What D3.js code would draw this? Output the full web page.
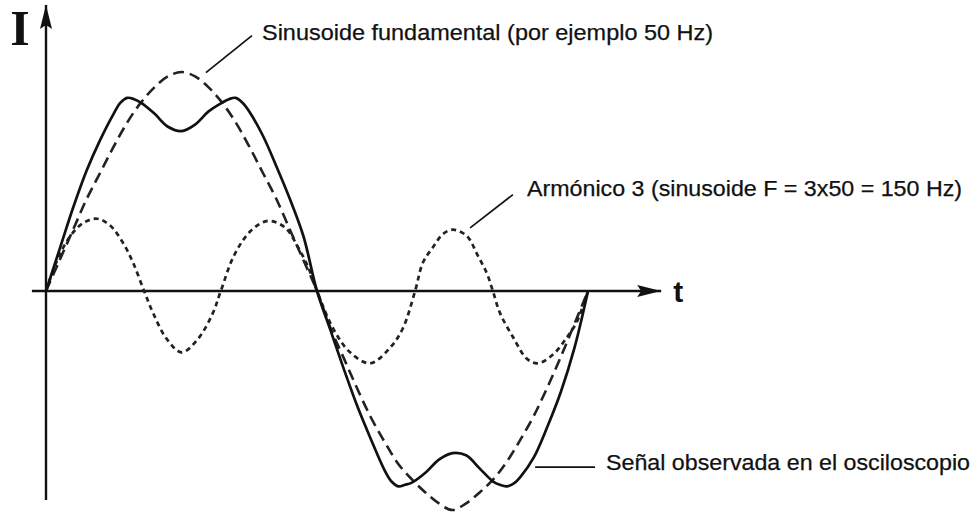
<!DOCTYPE html>
<html>
<head>
<meta charset="utf-8">
<script src="https://cdn.jsdelivr.net/npm/d3@7"></script>
<style>
  html, body { margin: 0; padding: 0; background: #fff; }
  svg { display: block; }
  text { font-family: "Liberation Sans", Arial, sans-serif; fill: #111; }
</style>
</head>
<body>
<svg id="chart" width="975" height="512"></svg>
<script>
// Time in ms (one 50 Hz period = 20 ms), current normalised to the fundamental's peak.
const tFund = [0, 0.5, 1, 1.5, 2, 2.5, 3, 3.5, 4, 4.5, 5, 5.5, 6, 6.5, 7, 7.5, 8, 8.5, 9, 9.5, 10,
               10.5, 11, 11.5, 12, 12.5, 13, 13.5, 14, 14.5, 15, 15.5, 16, 16.5, 17, 17.5, 18, 18.5, 19, 19.5, 20];
const iFund = [0, 0.14, 0.28, 0.42, 0.54, 0.66, 0.77, 0.86, 0.93, 0.98, 1.00, 0.98, 0.93, 0.86, 0.77, 0.66, 0.54, 0.42, 0.28, 0.14, 0,
               -0.17, -0.31, -0.45, -0.58, -0.69, -0.79, -0.86, -0.92, -0.97, -1.00, -0.97, -0.92, -0.86, -0.78, -0.68, -0.57, -0.44, -0.30, -0.15, 0];

// Third harmonic (150 Hz)
const tHarm = [0, 0.41, 0.89, 1.37, 1.88, 2.36, 2.84, 3.21, 3.62, 3.95, 4.46, 5.0, 5.6, 6.16, 6.45,
               6.97, 7.6, 8.19, 8.82, 9.3, 9.67, 10.0, 10.59, 11.22, 11.96, 12.69, 13.17, 13.62,
               13.91, 14.28, 14.65, 15.02, 15.54, 15.9, 16.27, 16.49, 16.75, 17.23, 17.75, 18.15, 18.71, 19.23, 19.59, 20];
const iHarm = [0, 0.14, 0.25, 0.31, 0.33, 0.30, 0.22, 0.13, 0, -0.10, -0.22, -0.28, -0.22, -0.10, 0,
               0.17, 0.28, 0.32, 0.29, 0.20, 0.11, 0, -0.17, -0.28, -0.33, -0.26, -0.17, 0,
               0.13, 0.20, 0.26, 0.28, 0.25, 0.17, 0.08, 0, -0.10, -0.21, -0.31, -0.33, -0.29, -0.21, -0.14, 0];

// Resulting waveform seen on the oscilloscope
const tSig = [0, 0.5, 1, 1.5, 2, 2.5, 2.75, 3, 3.25, 3.5, 4, 4.5, 5, 5.5, 6, 6.5, 6.75, 7, 7.25, 7.5, 8, 8.5, 9, 9.5, 10,
              10.5, 11, 11.5, 12, 12.5, 12.75, 13, 13.25, 13.5, 14, 14.5, 15, 15.5, 16, 16.5, 16.75, 17, 17.25, 17.5, 18, 18.5, 19, 19.5, 20];
const iSig = [0, 0.19, 0.38, 0.55, 0.69, 0.81, 0.86, 0.882, 0.876, 0.86, 0.81, 0.75, 0.73, 0.76, 0.82, 0.86, 0.876, 0.882, 0.86, 0.82, 0.71, 0.57, 0.42, 0.25, 0,
              -0.18, -0.36, -0.53, -0.68, -0.82, -0.87, -0.892, -0.885, -0.875, -0.83, -0.77, -0.74, -0.75, -0.81, -0.87, -0.885, -0.892, -0.88, -0.85, -0.76, -0.62, -0.46, -0.26, 0];

const labels = [
  "Sinusoide fundamental (por ejemplo 50 Hz)",
  "Armónico 3 (sinusoide F = 3x50 = 150 Hz)",
  "Señal observada en el osciloscopio"
];
const axisLabels = ["I", "t"];

const svg = d3.select("#chart");
const x = d3.scaleLinear().domain([0, 20]).range([46, 588]);
const y = d3.scaleLinear().domain([0, 1]).range([291, 72]);

const line = d3.line()
  .x(d => x(d[0]))
  .y(d => y(d[1]))
  .curve(d3.curveCatmullRom.alpha(0.5));

const zipPts = (ts, vs) => ts.map((t, i) => [t, vs[i]]);

// Arrow heads
const defs = svg.append("defs");
defs.append("marker")
  .attr("id", "arrow")
  .attr("viewBox", "0 0 24 12")
  .attr("refX", 24).attr("refY", 6)
  .attr("markerWidth", 24).attr("markerHeight", 12)
  .attr("markerUnits", "userSpaceOnUse")
  .attr("orient", "auto")
  .append("path")
  .attr("d", "M0,0 L24,6 L0,12 L4,6 Z")
  .attr("fill", "#111");

// Axes
svg.append("line")
  .attr("x1", x(-0.52)).attr("y1", y(0))
  .attr("x2", x(22.7)).attr("y2", y(0))
  .attr("stroke", "#111").attr("stroke-width", 2.6)
  .attr("marker-end", "url(#arrow)");

svg.append("line")
  .attr("x1", x(0)).attr("y1", y(-0.954))
  .attr("x2", x(0)).attr("y2", y(1.306))
  .attr("stroke", "#111").attr("stroke-width", 2.4)
  .attr("marker-end", "url(#arrow)");

svg.append("text")
  .attr("x", 20).attr("y", 45)
  .attr("text-anchor", "middle")
  .style("font-family", "'Liberation Serif', 'Times New Roman', serif")
  .style("font-weight", "bold")
  .style("font-size", "50px")
  .text(axisLabels[0]);

svg.append("text")
  .attr("x", x(22.7) + 12).attr("y", 302)
  .style("font-weight", "bold")
  .style("font-size", "30px")
  .text(axisLabels[1]);

// Curves
svg.append("path")
  .datum(zipPts(tHarm, iHarm))
  .attr("d", line)
  .attr("fill", "none").attr("stroke", "#222")
  .attr("stroke-width", 2.7)
  .attr("stroke-dasharray", "5,4");

svg.append("path")
  .datum(zipPts(tFund, iFund))
  .attr("d", line)
  .attr("fill", "none").attr("stroke", "#222")
  .attr("stroke-width", 2.6)
  .attr("stroke-dasharray", "11,6");

svg.append("path")
  .datum(zipPts(tSig, iSig))
  .attr("d", line)
  .attr("fill", "none").attr("stroke", "#111")
  .attr("stroke-width", 2.7);

// Annotations: leader line from a curve to its caption
const notes = [
  { from: [5.9, 0.997], to: [7.6, 1.166], tx: 262, ty: 40, len: 451, text: labels[0] },
  { from: [15.65, 0.288], to: [17.23, 0.44], tx: 527, ty: 196, len: 435, text: labels[1] },
  { from: [18.05, -0.804], to: [20.26, -0.804], tx: 606, ty: 470, len: 364, text: labels[2] }
];

notes.forEach(n => {
  svg.append("line")
    .attr("x1", x(n.from[0])).attr("y1", y(n.from[1]))
    .attr("x2", x(n.to[0])).attr("y2", y(n.to[1]))
    .attr("stroke", "#111").attr("stroke-width", 1.7);
  svg.append("text")
    .attr("x", n.tx).attr("y", n.ty)
    .attr("textLength", n.len)
    .attr("lengthAdjust", "spacingAndGlyphs")
    .style("font-size", "22px")
    .style("stroke", "#111").style("stroke-width", 0.25)
    .text(n.text);
});
</script>
</body>
</html>
